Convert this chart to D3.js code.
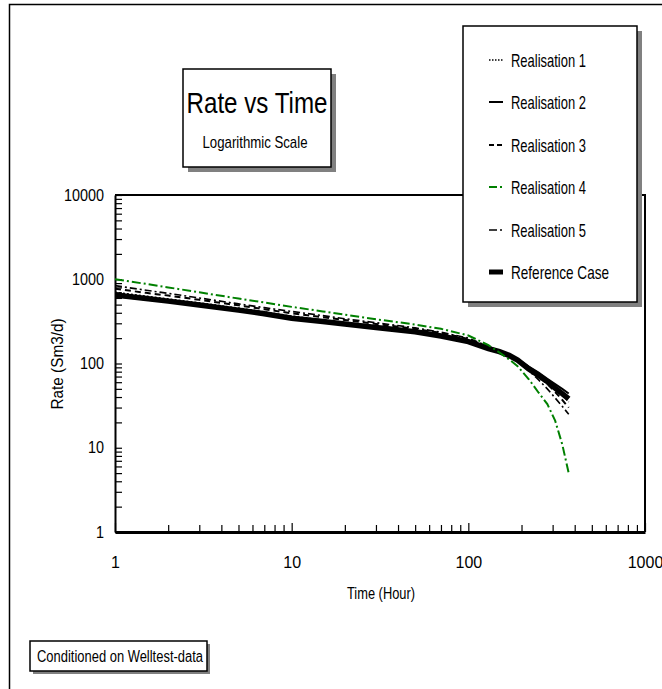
<!DOCTYPE html>
<html><head><meta charset="utf-8">
<script src="https://cdn.jsdelivr.net/npm/d3@7"></script>
<style>
html,body{margin:0;padding:0;background:#fff;}
svg{display:block;}
text{font-family:"Liberation Sans",Arial,sans-serif;fill:#000;}
</style></head>
<body>
<svg id="chart" width="662" height="689"></svg>
<script>
// ---- data ----
const time = [1, 1.5, 2, 3, 5, 7, 10, 15, 20, 30, 50, 70, 100, 130, 150, 170, 190, 220, 250, 280, 310, 340, 370];
const realisation1 = [700, 630, 585, 525, 455, 410, 365, 330, 305, 278, 245, 220, 188, 155, 139, 126, 111, 90, 74, 62, 52, 43, 35];
const realisation2 = [630, 575, 540, 490, 428, 388, 342, 312, 292, 265, 235, 210, 180, 150, 138, 126, 113, 92, 78, 66, 57, 50, 44];
const realisation3 = [770, 690, 640, 570, 490, 440, 395, 355, 328, 295, 258, 230, 196, 158, 140, 125, 109, 87, 70, 57, 46, 37, 30];
const realisation4 = [1000, 880, 800, 700, 590, 530, 470, 415, 380, 335, 290, 258, 215, 165, 135, 112, 93, 65, 45, 33, 21, 11, 5];
const realisation5 = [840, 740, 680, 600, 510, 460, 415, 370, 340, 305, 265, 235, 200, 160, 140, 124, 106, 82, 64, 50, 39, 31, 25];
const referenceCase = [650, 590, 550, 495, 430, 390, 345, 315, 295, 268, 238, 212, 182, 150, 138, 125, 110, 86, 72, 61, 51, 44, 38];
const seriesNames = ["Realisation 1", "Realisation 2", "Realisation 3", "Realisation 4", "Realisation 5", "Reference Case"];
const xTickLabels = [1, 10, 100, 1000];
const yTickLabels = [1, 10, 100, 1000, 10000];

const seriesValues = [realisation1, realisation2, realisation3, realisation4, realisation5, referenceCase];
const styles = [
  {color:"#000", width:1.5, dash:"2,2"},
  {color:"#000", width:2, dash:null},
  {color:"#000", width:2, dash:"6,4"},
  {color:"#008000", width:2, dash:"9,3,2,3"},
  {color:"#000", width:1.6, dash:"7,3,2,3"},
  {color:"#000", width:5.5, dash:null}
];

const svg = d3.select("#chart");
const L = 115, R = 645, T = 195, B = 532;
const x = d3.scaleLog().domain([1, 1000]).range([L, R]);
const y = d3.scaleLog().domain([1, 10000]).range([B, T]);

// outer frame
svg.append("path").attr("d", `M9.5,689 V4.5 H662`).attr("fill","none").attr("stroke","#000").attr("stroke-width",1.5);

// plot frame (top + right)
svg.append("path").attr("d", `M${L},${T} H${R} V${B}`).attr("fill","none").attr("stroke","#000").attr("stroke-width",2);

function logTicks(lo, hi) {
  const out = [];
  for (let d = lo; d < hi; d *= 10) for (let k = 1; k < 10; k++) out.push(d * k);
  out.push(hi);
  return out;
}
const isDecade = v => Math.abs(Math.log10(v) - Math.round(Math.log10(v))) < 1e-9;

// x axis
const xAxis = d3.axisBottom(x).tickValues(logTicks(1, 1000))
  .tickSizeInner(-7).tickSizeOuter(0).tickPadding(22)
  .tickFormat(d => xTickLabels.includes(d) ? String(d) : "");
const gx = svg.append("g").attr("transform", `translate(0,${B})`).call(xAxis);
gx.select(".domain").attr("stroke-width", 3);
gx.selectAll(".tick line").attr("stroke-width", 1.2).attr("y2", d => isDecade(d) ? -9 : -7);
gx.selectAll(".tick text").attr("font-size", 16).attr("font-family", "Liberation Sans, Arial, sans-serif")
  .attr("dy", "0.35em").attr("y", 30).attr("transform", d => `translate(${x(d)},0) scale(0.88,1) translate(${-x(d)},0)`);
gx.selectAll(".tick text").attr("transform", null);

// y axis
const yAxis = d3.axisLeft(y).tickValues(logTicks(1, 10000))
  .tickSizeInner(-7).tickSizeOuter(0).tickPadding(11)
  .tickFormat(d => yTickLabels.includes(d) ? String(d) : "");
const gy = svg.append("g").attr("transform", `translate(${L},0)`).call(yAxis);
gy.select(".domain").attr("stroke-width", 2);
gy.selectAll(".tick line").attr("stroke-width", 1.2);
gy.selectAll(".tick text").attr("font-size", 16).attr("font-family", "Liberation Sans, Arial, sans-serif")
  .attr("transform", "scale(0.9,1) translate(-1.2,0)");

// axis titles
svg.append("text").attr("x", 381).attr("y", 599).attr("text-anchor", "middle")
  .attr("font-size", 17).attr("textLength", 68).attr("lengthAdjust", "spacingAndGlyphs").text("Time (Hour)");
svg.append("text").attr("transform", "translate(63,364) rotate(-90)").attr("text-anchor", "middle")
  .attr("font-size", 17).attr("textLength", 91).attr("lengthAdjust", "spacingAndGlyphs").text("Rate (Sm3/d)");

// clip
svg.append("clipPath").attr("id", "clip").append("rect").attr("x", L).attr("y", T).attr("width", R - L).attr("height", B - T);

const line = d3.line().x(d => x(d[0])).y(d => y(d[1]));
const drawOrder = [5, 1, 0, 2, 4, 3];
const gl = svg.append("g").attr("clip-path", "url(#clip)");
drawOrder.forEach(i => {
  const pts = time.map((t, j) => [t, seriesValues[i][j]]);
  gl.append("path").datum(pts).attr("d", line).attr("fill", "none")
    .attr("stroke", styles[i].color).attr("stroke-width", styles[i].width)
    .attr("stroke-dasharray", styles[i].dash);
});

function box(bx, by, bw, bh, off) {
  svg.append("rect").attr("x", bx + off).attr("y", by + off).attr("width", bw).attr("height", bh).attr("fill", "#808080");
  svg.append("rect").attr("x", bx).attr("y", by).attr("width", bw).attr("height", bh).attr("fill", "#fff").attr("stroke", "#000").attr("stroke-width", 1.5);
}

// title box
box(183, 69, 148, 98, 5);
svg.append("text").attr("x", 257).attr("y", 113).attr("text-anchor", "middle").attr("font-size", 29)
  .attr("textLength", 141).attr("lengthAdjust", "spacingAndGlyphs").text("Rate vs Time");
svg.append("text").attr("x", 255).attr("y", 148).attr("text-anchor", "middle").attr("font-size", 17)
  .attr("textLength", 105).attr("lengthAdjust", "spacingAndGlyphs").text("Logarithmic Scale");

// legend
box(463, 26, 174, 276, 5);
const legendY = [60, 102, 145, 187, 230, 272];
const legendW = [75, 75, 75, 75, 75, 98];
seriesNames.forEach((name, i) => {
  const st = styles[i];
  svg.append("line").attr("x1", 489).attr("x2", 503).attr("y1", legendY[i]).attr("y2", legendY[i])
    .attr("stroke", st.color).attr("stroke-width", i === 5 ? 5 : st.width)
    .attr("stroke-dasharray", i === 0 ? "1.5,1.5" : i === 2 ? "5,3" : (i === 3 || i === 4) ? "8,3,2,3" : null);
  svg.append("text").attr("x", 511).attr("y", legendY[i] + 7).attr("font-size", 19)
    .attr("textLength", legendW[i]).attr("lengthAdjust", "spacingAndGlyphs").text(name);
});

// note box
box(30, 641, 177, 30, 3);
svg.append("text").attr("x", 37).attr("y", 662).attr("font-size", 16)
  .attr("textLength", 166).attr("lengthAdjust", "spacingAndGlyphs").text("Conditioned on Welltest-data");
</script>
</body></html>
